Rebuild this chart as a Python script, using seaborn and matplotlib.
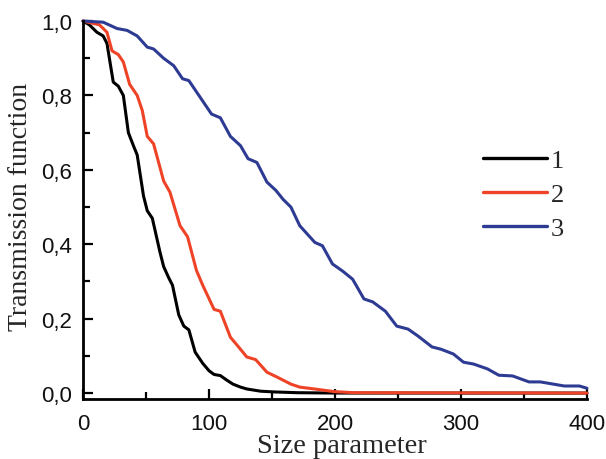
import numpy as np
import pandas as pd
import seaborn as sns
import matplotlib
matplotlib.use("Agg")
import matplotlib.pyplot as plt
from matplotlib.ticker import MultipleLocator, FixedLocator, FixedFormatter

# ---- data ----
x1 = [0, 5, 11, 16, 19, 24, 28, 32, 36, 40, 43, 48, 51, 55, 57, 61, 64, 68, 71, 76, 80, 84, 89, 95,
      100, 104, 109, 114, 119, 125, 130, 141, 152, 170, 200, 400]
y1 = [1.0, 0.99, 0.97, 0.96, 0.94, 0.836, 0.825, 0.80, 0.70, 0.665, 0.64, 0.53, 0.49, 0.47, 0.44,
      0.38, 0.34, 0.31, 0.29, 0.21, 0.18, 0.17, 0.11, 0.08, 0.06, 0.05, 0.047, 0.035, 0.024, 0.016,
      0.011, 0.005, 0.003, 0.001, 0.0, 0.0]

x2 = [0, 13, 19, 23, 28, 32, 37, 43, 47, 51, 56, 60, 64, 69, 73, 77, 79, 83, 90, 95, 104, 109, 117,
      122, 130, 137, 146, 154, 165, 172, 186, 199, 215, 400]
y2 = [1.0, 0.99, 0.97, 0.92, 0.91, 0.89, 0.83, 0.80, 0.76, 0.69, 0.67, 0.62, 0.57, 0.54, 0.495, 0.45,
      0.44, 0.42, 0.33, 0.29, 0.225, 0.22, 0.15, 0.13, 0.097, 0.09, 0.056, 0.043, 0.024, 0.016, 0.01,
      0.004, 0.001, 0.0]

x3 = [0, 16, 27, 35, 43, 51, 56, 64, 72, 79, 84, 93, 102, 109, 117, 125, 131, 138, 146, 153, 159, 165,
      172, 184, 190, 198, 206, 214, 223, 230, 240, 249, 258, 266, 277, 284, 294, 302, 310, 321, 330,
      341, 354, 363, 382, 394, 400]
y3 = [1.0, 0.997, 0.98, 0.975, 0.96, 0.93, 0.925, 0.90, 0.88, 0.845, 0.84, 0.795, 0.75, 0.74, 0.69,
      0.665, 0.63, 0.62, 0.567, 0.545, 0.52, 0.50, 0.45, 0.405, 0.396, 0.347, 0.328, 0.306, 0.253,
      0.245, 0.22, 0.18, 0.172, 0.153, 0.124, 0.118, 0.105, 0.083, 0.078, 0.065, 0.048, 0.046, 0.03,
      0.03, 0.019, 0.019, 0.013]

series_names = ["1", "2", "3"]
colors = ["#000000", "#ee4326", "#2e3b93"]
xticks = [0, 100, 200, 300, 400]
yticks = [0.0, 0.2, 0.4, 0.6, 0.8, 1.0]
ytick_labels = ["0,0", "0,2", "0,4", "0,6", "0,8", "1,0"]

df = pd.concat([
    pd.DataFrame({"x": x1, "y": y1, "s": series_names[0]}),
    pd.DataFrame({"x": x2, "y": y2, "s": series_names[1]}),
    pd.DataFrame({"x": x3, "y": y3, "s": series_names[2]}),
], ignore_index=True)

sns.set_theme(style="ticks")
plt.rcParams["font.family"] = ["Liberation Sans", "DejaVu Sans"]

fig = plt.figure(figsize=(6.06, 4.6), dpi=100)
ax = fig.add_axes([0.137, 0.1304, 0.8316, 0.8216])

sns.lineplot(data=df, x="x", y="y", hue="s", palette=colors, linewidth=2.2,
             ax=ax, sort=False, estimator=None)
for ln in ax.lines:
    ln.set_clip_on(False)
    ln.set_solid_joinstyle("round")

ax.set_xlim(0, 400)
ax.set_ylim(-0.016, 1.0)
ax.xaxis.set_major_locator(FixedLocator(xticks))
ax.xaxis.set_minor_locator(MultipleLocator(50))
ax.yaxis.set_major_locator(FixedLocator(yticks))
ax.yaxis.set_major_formatter(FixedFormatter(ytick_labels))
ax.yaxis.set_minor_locator(MultipleLocator(0.1))

for s in ["top", "right"]:
    ax.spines[s].set_visible(False)
for s in ["left", "bottom"]:
    ax.spines[s].set_linewidth(2.0)
    ax.spines[s].set_color("black")

ax.tick_params(which="major", direction="in", length=7, width=1.6, color="black",
               labelsize=16, labelcolor="#111111")
ax.tick_params(which="minor", direction="in", length=5, width=1.6, color="black")
ax.tick_params(axis="y", which="major", pad=8)
ax.tick_params(axis="x", which="major", pad=10)

ax.set_xlabel("Size parameter", family=["Liberation Serif"], fontsize=20.5)
ax.xaxis.set_label_coords(0.513, -0.09)
ax.set_ylabel("Transmission function", family=["Liberation Serif"], fontsize=20)
ax.yaxis.set_label_coords(-0.1, 0.51)

leg = ax.legend(frameon=False, loc="upper left", bbox_to_anchor=(0.772, 0.69),
                prop={"family": "Liberation Serif", "size": 19}, handlelength=2.45,
                handletextpad=0.12, labelspacing=0.4, borderaxespad=0)
for h in leg.get_lines():
    h.set_linewidth(2.4)

fig.savefig("out.png", dpi=100)
